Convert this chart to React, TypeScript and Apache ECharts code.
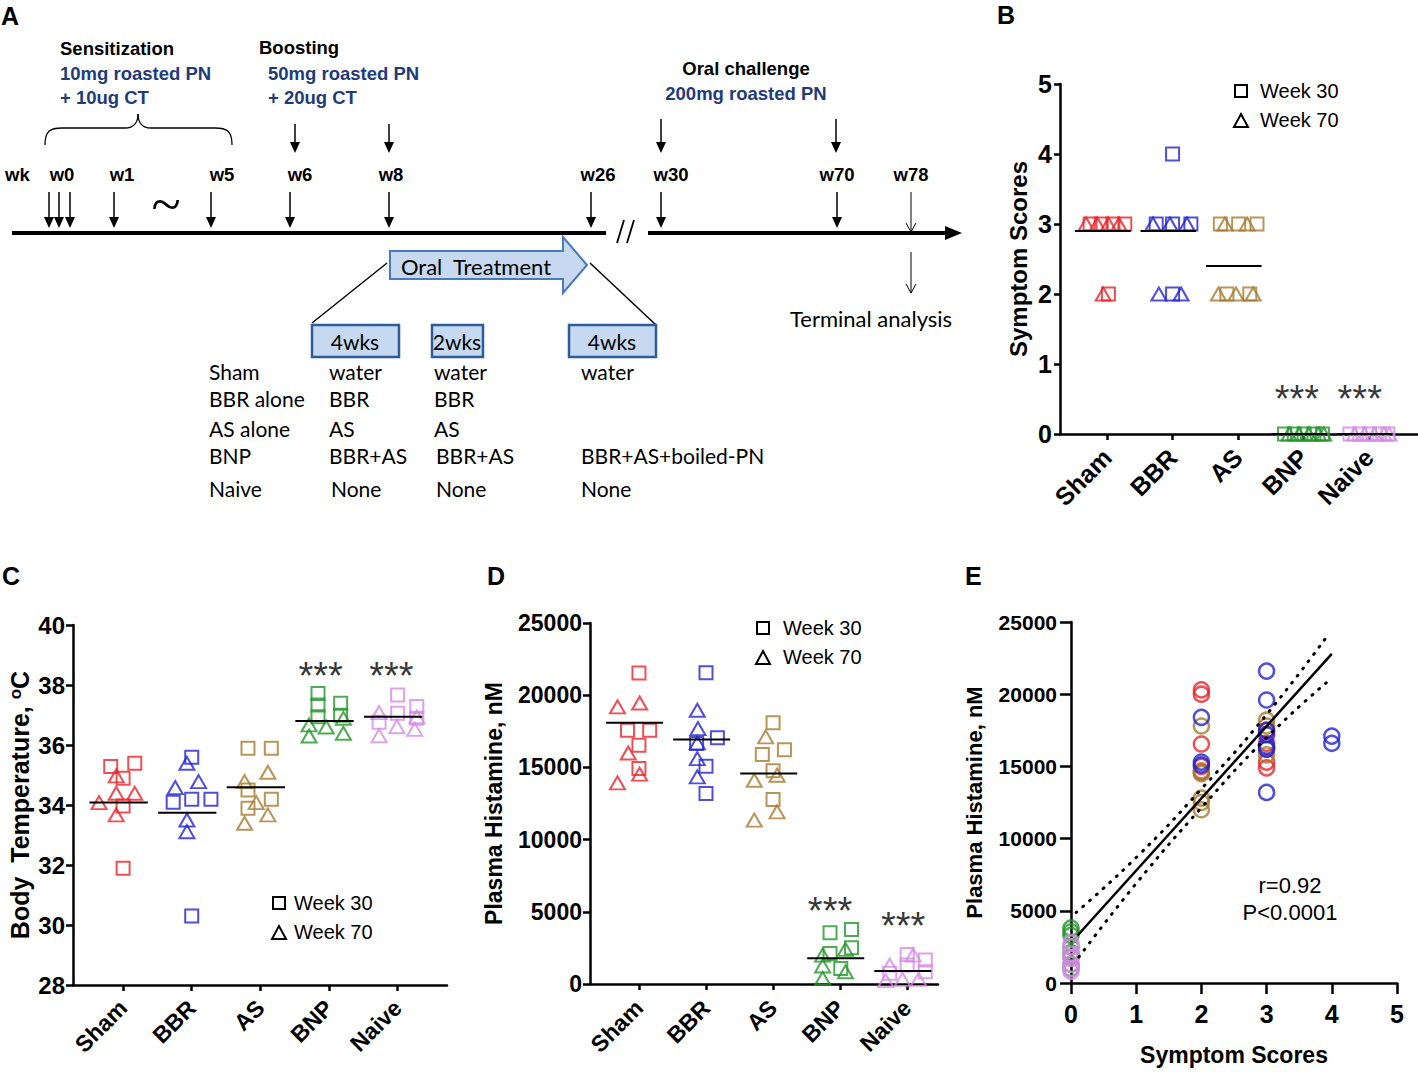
import React, { useEffect, useRef } from "react";
import * as echarts from "echarts";

// ---------- shared ----------
const groups = ["Sham", "BBR", "AS", "BNP", "Naive"];
const groupColors = ["#e8232b", "#2323cf", "#a67a2e", "#23962a", "#d58be6"];
const groupTicks = [0, 1, 2, 3, 4];

// ---------- panel B: symptom scores ----------
const scoreW30 = [[3, 3, 3, 3, 2], [3, 3, 3, 4, 2], [3, 3, 3, 2, 2], [0, 0, 0, 0, 0], [0, 0, 0, 0, 0]];
const scoreW30Jit = [[-0.26, -0.09, 0.09, 0.27, 0.02], [-0.25, 0, 0.28, 0, 0], [-0.27, 0.01, 0.29, -0.17, 0.18], [-0.29, -0.14, 0.01, 0.16, 0.29], [-0.29, -0.14, 0.01, 0.16, 0.29]];
const scoreW70 = [[3, 3, 3, 3, 2], [3, 3, 3, 2, 2], [3, 3, 2, 2, 2], [0, 0, 0, 0, 0], [0, 0, 0, 0, 0]];
const scoreW70Jit = [[-0.32, -0.15, 0.02, 0.18, -0.06], [-0.3, -0.04, 0.22, -0.21, 0.13], [-0.2, 0.14, -0.3, -0.03, 0.23], [-0.22, -0.07, 0.08, 0.23, 0.31], [-0.22, -0.07, 0.08, 0.23, 0.31]];
const scoreMeans = [2.9, 2.9, 2.4, 0, 0];
const scoreSig = [[2.9, 0.63], [3.86, 0.63]];

// ---------- panel C: body temperature ----------
const tempW30 = [
  [35.28, 35.39, 34.89, 33.97, 31.89],
  [35.59, 34.09, 34.19, 34.19, 30.3],
  [35.89, 35.89, 34.5, 33.89, 34.19],
  [37.72, 37.33, 36.94, 37.39, 36.99],
  [37.67, 37.06, 37.28, 36.89, 36.76],
];
const tempW30Jit = [
  [-0.18, 0.17, 0, 0, 0],
  [0, -0.27, 0, 0.28, 0],
  [-0.18, 0.16, -0.18, -0.18, 0.16],
  [-0.16, -0.16, -0.16, 0.17, 0.17],
  [0, 0, 0.28, 0.28, -0.27],
];
const tempW70 = [
  [34.08, 34.97, 34.39, 34.39, 33.67],
  [35.39, 34.58, 34.78, 33.5, 33.11],
  [34.78, 35.09, 34.08, 33.39, 33.67],
  [36.67, 36.3, 36.6, 36.89, 36.39],
  [37.08, 36.31, 36.61, 36.52, 36.94],
];
const tempW70Jit = [
  [-0.35, -0.1, -0.1, 0.17, -0.1],
  [-0.07, -0.24, 0.1, -0.07, -0.07],
  [-0.23, 0.11, -0.06, -0.23, 0.11],
  [-0.29, -0.29, -0.04, 0.21, 0.21],
  [-0.27, -0.27, -0.01, 0.25, 0.28],
];
const tempMeans = [34.08, 33.74, 34.59, 36.8, 36.94];
const tempSig = [[2.88, 38.6], [3.91, 38.6]];

// ---------- panel D: plasma histamine ----------
const histW30 = [
  [21540, 17570, 17570, 16530, 14920],
  [21560, 17060, 15080, 13190, 16650],
  [18100, 15890, 16230, 14760, 12780],
  [3550, 3780, 2510, 2120, 1080],
  [2050, 1310, 1660, 850, 740],
];
const histW30Jit = [
  [0, -0.17, 0.16, 0, 0],
  [0, 0.17, 0, 0, -0.14],
  [0, -0.16, 0.17, 0, 0],
  [-0.15, 0.17, 0.17, -0.15, 0.01],
  [0, 0, 0.27, 0.27, -0.26],
];
const histW70 = [
  [19190, 19460, 16000, 13930, 14530],
  [18960, 17690, 16700, 15610, 14340],
  [17110, 14110, 14460, 11350, 11920],
  [2000, 1250, 390, 2400, 850],
  [1310, 230, 320, 2000, 320],
];
const histW70Jit = [
  [-0.32, 0.01, -0.16, -0.32, 0.01],
  [-0.13, -0.12, -0.13, -0.13, -0.13],
  [-0.11, -0.28, 0.06, -0.28, 0.06],
  [-0.26, -0.26, -0.26, 0.08, 0.08],
  [-0.26, -0.32, -0.07, 0.09, 0.17],
];
const histMeans = [18100, 16930, 14570, 1780, 900];
const histSig = [[2.85, 5680], [3.94, 4640]];

// ---------- panel E: correlation ----------
const corrSham = [[2, 20300], [2, 20000], [2, 16550], [2, 15000], [2, 14600], [3, 17500], [3, 16600], [3, 15300], [3, 14900]];
const corrAS = [[2, 17800], [2, 14700], [2, 14500], [2, 12800], [2, 12500], [2, 12000], [3, 18200], [3, 17800], [3, 16200], [3, 15800]];
const corrBBR = [[2, 18400], [2, 15300], [2, 15100], [3, 21600], [3, 19600], [3, 17500], [3, 17200], [3, 16400], [3, 16200], [3, 13200], [4, 17100], [4, 16600]];
const corrBNP = [[0, 3800], [0, 3550], [0, 3300], [0, 2500], [0, 2100], [0, 1800], [0, 1300], [0, 1000]];
const corrNaive = [[0, 2800], [0, 2500], [0, 2000], [0, 1700], [0, 1300], [0, 1000], [0, 800]];
const fitLine = [[0.1, 3290], [4.0, 22790]];
const bandUpper = [[0.08, 4890], [1, 8690], [2, 13440], [3, 18590], [3.94, 24090]];
const bandLower = [[0.12, 1790], [1, 6890], [2, 12140], [3, 16990], [3.94, 20890]];

// ---------- panel A: protocol text ----------
const weekLabels = ["w0", "w1", "w5", "w6", "w8", "w26", "w30", "w70", "w78"];
const tableGroups = ["Sham", "BBR alone", "AS alone", "BNP", "Naive"];
const tableCol2 = ["water", "BBR", "AS", "BBR+AS", "None"];
const tableCol3 = ["water", "BBR", "AS", "BBR+AS", "None"];
const tableCol4 = ["water", "", "", "BBR+AS+boiled-PN", "None"];

const FONT = "'Liberation Sans', Arial, sans-serif";
const CAL = "Lato, 'Open Sans', sans-serif";
const NAVY = "#1f3b78";

const txt = (x: number, y: number, text: string, size: number, o: any = {}) => ({
  type: "text",
  x,
  y,
  silent: true,
  style: {
    text,
    fontSize: size,
    fontFamily: o.family || FONT,
    fontWeight: o.weight || "normal",
    fill: o.color || "#000",
    align: o.align || "left",
    verticalAlign: "middle",
  },
});
const ln = (x1: number, y1: number, x2: number, y2: number, w = 1.5) => ({
  type: "line",
  silent: true,
  shape: { x1, y1, x2, y2 },
  style: { stroke: "#000", lineWidth: w },
});
const downArrow = (x: number, y1: number, y2: number) => [
  ln(x, y1, x, y2 - 9, 1.5),
  { type: "polygon", silent: true, shape: { points: [[x - 5, y2 - 11], [x + 5, y2 - 11], [x, y2]] }, style: { fill: "#000" } },
];
const openArrow = (x: number, y1: number, y2: number) => [
  ln(x, y1, x, y2, 1),
  { type: "polyline", silent: true, shape: { points: [[x - 5, y2 - 9], [x, y2], [x + 5, y2 - 9]] }, style: { stroke: "#000", lineWidth: 1, fill: null } },
];
const legendMarks = (cx: number, cy: number, tx: number) => [
  { type: "rect", silent: true, shape: { x: cx - 6, y: cy - 6, width: 12, height: 12 }, style: { fill: "none", stroke: "#000", lineWidth: 2 } },
  { type: "polygon", silent: true, shape: { points: [[cx - 7, cy + 36], [cx + 7, cy + 36], [cx, cy + 23]] }, style: { fill: "none", stroke: "#000", lineWidth: 2 } },
  txt(tx, cy, "Week 30", 20),
  txt(tx, cy + 29, "Week 70", 20),
];

function buildGraphics() {
  const g: any[] = [];
  // panel letters
  g.push(txt(1, 16, "A", 25, { weight: "bold" }));
  g.push(txt(997, 15, "B", 25, { weight: "bold" }));
  g.push(txt(2, 576, "C", 25, { weight: "bold" }));
  g.push(txt(487, 576, "D", 25, { weight: "bold" }));
  g.push(txt(965, 576, "E", 25, { weight: "bold" }));

  // panel A headings
  g.push(txt(60, 48, "Sensitization", 18.5, { weight: "bold" }));
  g.push(txt(60, 73, "10mg roasted PN", 18.5, { weight: "bold", color: NAVY }));
  g.push(txt(60, 97, "+ 10ug CT", 18.5, { weight: "bold", color: NAVY }));
  g.push(txt(259, 47, "Boosting", 18.5, { weight: "bold" }));
  g.push(txt(268, 73, "50mg roasted PN", 18.5, { weight: "bold", color: NAVY }));
  g.push(txt(268, 97, "+ 20ug CT", 18.5, { weight: "bold", color: NAVY }));
  g.push(txt(746, 68, "Oral challenge", 18.5, { weight: "bold", align: "center" }));
  g.push(txt(746, 93, "200mg roasted PN", 18.5, { weight: "bold", color: NAVY, align: "center" }));

  // brace
  const bs = { stroke: "#000", lineWidth: 1.3, fill: "none" };
  g.push({ type: "bezierCurve", silent: true, shape: { x1: 45, y1: 145, cpx1: 45, cpy1: 131, cpx2: 50, cpy2: 128, x2: 62, y2: 128 }, style: bs });
  g.push(ln(62, 128, 125, 128, 1.3));
  g.push({ type: "bezierCurve", silent: true, shape: { x1: 125, y1: 128, cpx1: 134, cpy1: 128, cpx2: 138, cpy2: 122, x2: 138, y2: 114 }, style: bs });
  g.push({ type: "bezierCurve", silent: true, shape: { x1: 138, y1: 114, cpx1: 138, cpy1: 122, cpx2: 142, cpy2: 128, x2: 151, y2: 128 }, style: bs });
  g.push(ln(151, 128, 215, 128, 1.3));
  g.push({ type: "bezierCurve", silent: true, shape: { x1: 215, y1: 128, cpx1: 227, cpy1: 128, cpx2: 232, cpy2: 131, x2: 232, y2: 145 }, style: bs });

  // week labels
  g.push(txt(5, 174, "wk", 18.5, { weight: "bold" }));
  const wx = [62, 122, 222, 300, 391, 598, 671, 837, 911];
  weekLabels.forEach((w, i) => g.push(txt(wx[i], 174, w, 18.5, { weight: "bold", align: "center" })));

  // arrows
  [295, 389].forEach((x) => g.push(...downArrow(x, 124, 153)));
  [661, 836].forEach((x) => g.push(...downArrow(x, 119, 153)));
  [49, 59, 70, 114, 211, 290, 389, 591, 661, 837].forEach((x) => g.push(...downArrow(x, 192, 228)));
  g.push(...openArrow(911, 192, 232));
  g.push(...openArrow(911, 252, 293));
  g.push(txt(166, 205, "~", 54, { family: "'Liberation Serif', serif", align: "center" }));

  // timeline
  g.push(ln(12, 233, 606, 233, 4));
  g.push(ln(617, 243, 624, 220, 1.8));
  g.push(ln(627, 243, 634, 220, 1.8));
  g.push(ln(648, 233, 948, 233, 4));
  g.push({ type: "polygon", silent: true, shape: { points: [[945, 226], [962, 233], [945, 240]] }, style: { fill: "#000" } });
  g.push(txt(790, 318, "Terminal analysis", 22, { family: CAL }));

  // oral treatment arrow
  g.push({
    type: "polygon",
    silent: true,
    shape: { points: [[390, 251], [563, 251], [563, 237], [587, 265], [563, 293], [563, 279], [390, 279]] },
    style: { fill: "#c6d9f0", stroke: "#4a7ab8", lineWidth: 2 },
  });
  g.push(txt(476, 266, "Oral  Treatment", 22, { family: CAL, align: "center" }));
  g.push(ln(387, 263, 312, 323, 1.5));
  g.push(ln(590, 263, 656, 325, 1.5));
  const boxes = [[312, 87, 355, "4wks"], [432, 51, 457, "2wks"], [569, 87, 612, "4wks"]];
  boxes.forEach((b: any) => {
    g.push({ type: "rect", silent: true, shape: { x: b[0], y: 325, width: b[1], height: 32 }, style: { fill: "#c6d9f0", stroke: "#2f5d9c", lineWidth: 2.5 } });
    g.push(txt(b[2], 341, b[3], 21, { family: CAL, align: "center" }));
  });
  const rowY = [371, 398, 428, 455, 488];
  tableGroups.forEach((t, i) => g.push(txt(209, rowY[i], t, 21, { family: CAL })));
  tableCol2.forEach((t, i) => g.push(txt(i === 4 ? 331 : 329, rowY[i], t, 21, { family: CAL })));
  tableCol3.forEach((t, i) => g.push(txt(i >= 3 ? 436 : 434, rowY[i], t, 21, { family: CAL })));
  tableCol4.forEach((t, i) => t && g.push(txt(581, rowY[i], t, 21, { family: CAL })));

  // legends
  g.push(...legendMarks(1241, 91, 1260));
  g.push(...legendMarks(279, 903, 294));
  g.push(...legendMarks(763, 628, 783));

  // correlation text
  g.push(txt(1290, 885, "r=0.92", 22, { align: "center" }));
  g.push(txt(1290, 912, "P<0.0001", 22, { align: "center" }));
  return g;
}

const axisLineStyle = { show: true, onZero: false, lineStyle: { color: "#000", width: 2.5 } };
const plainNum = (v: number) => String(v);

const catX = (gi: number, min: number, max: number, fs: number, margin: number) => ({
  type: "value",
  gridIndex: gi,
  min,
  max,
  axisLine: axisLineStyle,
  axisTick: { show: true, customValues: groupTicks, length: 6, lineStyle: { color: "#000", width: 2.5 } },
  axisLabel: {
    show: true,
    customValues: groupTicks,
    formatter: (v: number) => groups[Math.round(v)] ?? "",
    rotate: 45,
    fontSize: fs,
    fontWeight: "bold",
    fontFamily: FONT,
    color: "#000",
    margin,
  },
  splitLine: { show: false },
});

const valY = (gi: number, min: number, max: number, interval: number, fs: number, name: any, nameGap: number, nameFs: number, tickLen: number, margin: number, rich?: any) => ({
  type: "value",
  gridIndex: gi,
  min,
  max,
  interval,
  axisLine: axisLineStyle,
  axisTick: { show: true, length: tickLen, lineStyle: { color: "#000", width: 2.5 } },
  axisLabel: { fontSize: fs, fontWeight: "bold", fontFamily: FONT, color: "#000", margin, formatter: plainNum },
  splitLine: { show: false },
  name,
  nameLocation: "middle",
  nameGap,
  nameRotate: 90,
  nameTextStyle: { fontSize: nameFs, fontWeight: "bold", fontFamily: FONT, color: "#000", rich },
});

function dotSeries(idx: number, w30: number[][], w30j: number[][], w70: number[][], w70j: number[][], means: number[], sig: number[][]) {
  const s: any[] = [];
  groups.forEach((g, gi) => {
    s.push({
      type: "scatter",
      name: g + " Week 30",
      xAxisIndex: idx,
      yAxisIndex: idx,
      symbol: "rect",
      symbolSize: 13,
      itemStyle: { color: "rgba(0,0,0,0)", borderColor: groupColors[gi], borderWidth: 2 },
      data: w30[gi].map((v, k) => [gi + w30j[gi][k], v]),
      z: 3,
      silent: true,
    });
    s.push({
      type: "scatter",
      name: g + " Week 70",
      xAxisIndex: idx,
      yAxisIndex: idx,
      symbol: "triangle",
      symbolSize: [15, 13],
      itemStyle: { color: "rgba(0,0,0,0)", borderColor: groupColors[gi], borderWidth: 2 },
      data: w70[gi].map((v, k) => [gi + w70j[gi][k], v]),
      z: 3,
      silent: true,
    });
    s.push({
      type: "line",
      xAxisIndex: idx,
      yAxisIndex: idx,
      data: [[gi - 0.49, means[gi]], [gi + 0.36, means[gi]]],
      symbol: "none",
      lineStyle: { color: "#000", width: 2 },
      z: 4,
      silent: true,
    });
  });
  s.push({
    type: "scatter",
    xAxisIndex: idx,
    yAxisIndex: idx,
    symbol: "circle",
    symbolSize: 1,
    itemStyle: { color: "rgba(0,0,0,0)" },
    label: { show: true, formatter: "***", position: "inside", fontSize: 38, color: "#000", fontFamily: FONT, offset: [0, 9] },
    data: sig,
    silent: true,
    z: 5,
  });
  return s;
}

function corrSeries(idx: number) {
  const sets = [corrSham, corrAS, corrBBR, corrBNP, corrNaive];
  const cols = [groupColors[0], groupColors[2], groupColors[1], groupColors[3], groupColors[4]];
  const s: any[] = sets.map((d, i) => ({
    type: "scatter",
    xAxisIndex: idx,
    yAxisIndex: idx,
    symbol: "circle",
    symbolSize: 15,
    itemStyle: { color: "rgba(0,0,0,0)", borderColor: cols[i], borderWidth: 2.5 },
    data: d,
    z: 3,
    silent: true,
  }));
  s.push({ type: "line", xAxisIndex: idx, yAxisIndex: idx, data: fitLine, symbol: "none", lineStyle: { color: "#000", width: 2.5 }, z: 4, silent: true });
  [bandUpper, bandLower].forEach((b) =>
    s.push({
      type: "line",
      xAxisIndex: idx,
      yAxisIndex: idx,
      data: b,
      smooth: true,
      symbol: "none",
      lineStyle: { color: "#000", width: 3, type: [1, 8], cap: "round" },
      z: 4,
      silent: true,
    })
  );
  return s;
}

export default function App() {
  const ref = useRef<HTMLDivElement>(null);
  useEffect(() => {
    document.body.style.margin = "0";
    if (!ref.current) return;
    const chart = echarts.init(ref.current, null, { renderer: "svg" });
    const option: any = {
      animation: false,
      backgroundColor: "#fff",
      grid: [
        { left: 1060, top: 84, width: 358, height: 350, outerBoundsMode: "none" },
        { left: 73, top: 625, width: 374, height: 360, outerBoundsMode: "none" },
        { left: 590, top: 623, width: 348, height: 361, outerBoundsMode: "none" },
        { left: 1071, top: 622, width: 326, height: 361, outerBoundsMode: "none" },
      ],
      xAxis: [
        catX(0, -0.72, 4.75, 25, 19),
        catX(1, -0.73, 4.72, 23, 19),
        catX(2, -0.73, 4.46, 23, 20),
        {
          type: "value",
          gridIndex: 3,
          min: 0,
          max: 5,
          interval: 1,
          axisLine: axisLineStyle,
          axisTick: { show: true, length: 11, lineStyle: { color: "#000", width: 2.5 } },
          axisLabel: { fontSize: 25, fontWeight: "bold", fontFamily: FONT, color: "#000", margin: 18 },
          splitLine: { show: false },
          name: "Symptom Scores",
          nameLocation: "middle",
          nameGap: 60,
          nameTextStyle: { fontSize: 23, fontWeight: "bold", fontFamily: FONT, color: "#000" },
        },
      ],
      yAxis: [
        valY(0, 0, 5, 1, 25, "Symptom Scores", 30, 24, 6, 8),
        valY(1, 28, 40, 2, 24, "Body  Temperature, {s|o}C", 41, 25, 7, 8, {
          s: { fontSize: 17, fontWeight: "bold", fontFamily: FONT, color: "#000", verticalAlign: "top" },
        }),
        valY(2, 0, 25000, 5000, 23, "Plasma Histamine, nM", 85, 23, 7, 8),
        valY(3, 0, 25000, 5000, 21, "Plasma Histamine, nM", 86, 22, 11, 14),
      ],
      series: [
        ...dotSeries(0, scoreW30, scoreW30Jit, scoreW70, scoreW70Jit, scoreMeans, scoreSig),
        ...dotSeries(1, tempW30, tempW30Jit, tempW70, tempW70Jit, tempMeans, tempSig),
        ...dotSeries(2, histW30, histW30Jit, histW70, histW70Jit, histMeans, histSig),
        ...corrSeries(3),
      ],
      graphic: buildGraphics(),
    };
    chart.setOption(option);
    return () => chart.dispose();
  }, []);
  return <div ref={ref} style={{ width: 1418, height: 1072, background: "#fff" }} />;
}
